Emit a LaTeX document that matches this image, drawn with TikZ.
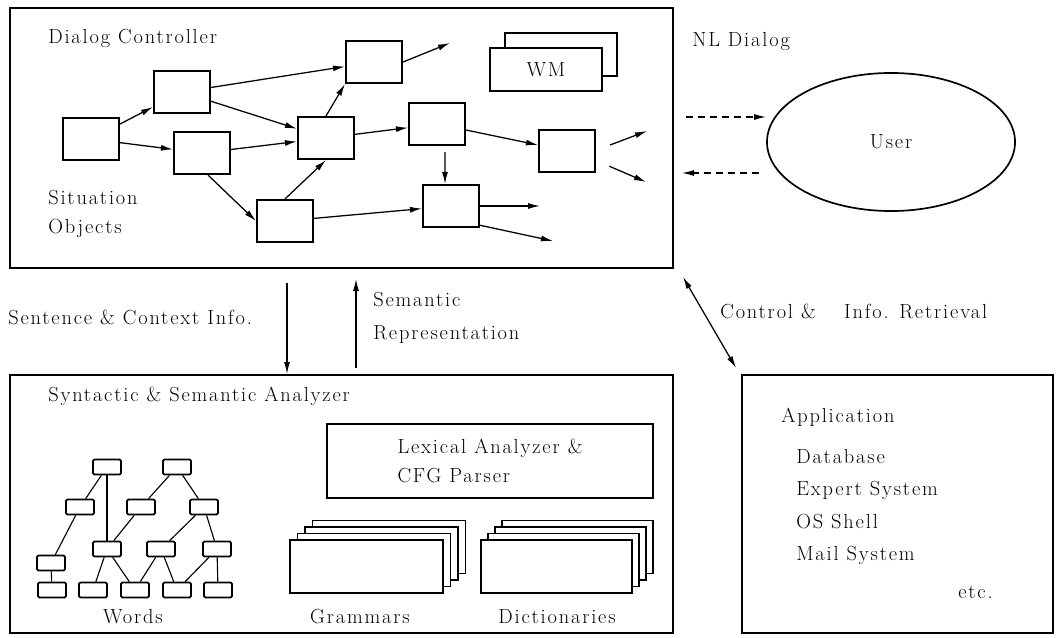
\documentclass[tikz,border=0pt]{standalone}
\usepackage{fontspec}
\setmainfont{Latin Modern Roman}[LetterSpace=9]
\usetikzlibrary{arrows.meta, shapes.geometric, positioning}

\begin{document}
\begin{tikzpicture}[x=0.025cm, y=-0.025cm,
  font=\fontsize{14.5}{20}\selectfont,
  >={Latex[length=3mm,width=1.5mm]},
  frame/.style={draw, line width=1.3pt, inner sep=0pt},
  obj/.style={draw, line width=1.5pt, fill=white, minimum width=1.4cm, minimum height=1.05cm, inner sep=0pt},
  word/.style={draw, line width=1.2pt, rounded corners=1pt, minimum width=0.7cm, minimum height=0.375cm, inner sep=0pt},
  sheet/.style={draw, line width=1.3pt, fill=white, minimum height=1.325cm, inner sep=0pt},
  flow/.style={->, line width=0.9pt},
  link/.style={line width=0.8pt},
  txt/.style={anchor=west, inner sep=0pt, align=left}]
\useasboundingbox (0,0) rectangle (1056,637);

% dialog controller
\node[frame, minimum width=16.575cm, minimum height=6.5cm] (ctl) at (341.5,138) {};
\node[txt] (ctltitle) at (48,38) {Dialog Controller};
\node[txt] (sitobj) at (48,214) {Situation\\ Objects};

\node[obj] (s1) at (91,139) {};
\node[obj] (s2) at (182,92) {};
\node[obj] (s3) at (202,153) {};
\node[obj] (s4) at (326,138) {};
\node[obj] (s5) at (374,62) {};
\node[obj] (s6) at (285,221) {};
\node[obj] (s7) at (437,124) {};
\node[obj] (s8) at (451,206) {};
\node[obj] (s9) at (567,151) {};

\node[obj, minimum width=2.8cm, minimum height=1.075cm] (wmback) at (561,54.5) {};
\node[obj, minimum width=2.8cm, minimum height=1.075cm] (wm) at (546,69.5) {WM};

\coordinate (o5) at (450,43);
\coordinate (o8a) at (540,206);
\coordinate (o8b) at (553,241);
\coordinate (o9a) at (647,131);
\coordinate (o9b) at (646,182);

\draw[flow] (s1) -- (s2);
\draw[flow] (s1) -- (s3);
\draw[flow] (s2) -- (s5);
\draw[flow] (s2) -- (s4);
\draw[flow] (s3) -- (s4);
\draw[flow] ([xshift=0.15cm]s3.south) -- (s6.west);
\draw[flow] (s6.north) -- (s4.south);
\draw[flow] (s4.north) -- (s5.south west);
\draw[flow] (s4) -- (s7);
\draw[flow] (s7) -- (s9);
\draw[flow] ([xshift=0.2cm,yshift=-0.15cm]s7.south) -- ([xshift=-0.15cm]s8.north);
\draw[flow] (s6) -- (s8);
\draw[flow] (s5.east) -- (o5);
\draw[flow] (s8.east) -- (o8a);
\draw[flow] ([yshift=0.07cm]s8.south east) -- (o8b);
\draw[flow] ([shift={(0.35cm,0.15cm)}]s9.east) -- (o9a);
\draw[flow] ([shift={(0.33cm,-0.38cm)}]s9.east) -- (o9b);

% user and the NL dialog
\node[txt] (nltitle) at (692,42) {NL Dialog};
\node[draw, ellipse, line width=1.2pt, minimum width=6.2cm, minimum height=3.45cm] (user) at (891,142) {User};
\coordinate (nl1) at (686,117);
\coordinate (nl2s) at (759,173);
\coordinate (nl2) at (682,173);
\draw[flow, dash pattern=on 5pt off 3.5pt] (nl1) -- (nl1 -| user.west);
\draw[flow, dash pattern=on 5pt off 3.5pt] (nl2s) -- (nl2);

% analyzer
\node[frame, minimum width=16.575cm, minimum height=6.45cm] (syn) at (341.5,504) {};
\node[txt] (syntitle) at (48,396) {Syntactic \& Semantic Analyzer};
\node[frame, line width=1.5pt, minimum width=8.15cm, minimum height=1.85cm, align=left] (lex) at (490,461) {Lexical Analyzer \&\\[1pt] CFG Parser};

\node[sheet, minimum width=3.825cm] (gram3) at (389,547) {};
\node[sheet, minimum width=3.825cm] (gram2) at (381.5,553.5) {};
\node[sheet, minimum width=3.825cm] (gram1) at (374,560) {};
\node[sheet, minimum width=3.825cm] (gram0) at (366.5,566.5) {};
\node (gramlabel) at (360,617) {Grammars};

\node[sheet, minimum width=3.775cm] (dict3) at (577.5,547) {};
\node[sheet, minimum width=3.775cm] (dict2) at (570.5,553.5) {};
\node[sheet, minimum width=3.775cm] (dict1) at (563.5,560) {};
\node[sheet, minimum width=3.775cm] (dict0) at (556.5,566.5) {};
\node (dictlabel) at (557,617) {Dictionaries};

% word tree
\node[word] (w1) at (107,467) {};
\node[word] (w2) at (177,467) {};
\node[word] (w3) at (80,507) {};
\node[word] (w4) at (141,507) {};
\node[word] (w5) at (204,507) {};
\node[word] (w6) at (107,549) {};
\node[word] (w7) at (161,549) {};
\node[word] (w8) at (217,549) {};
\node[word] (w9) at (51,563) {};
\node[word] (w10) at (52,590) {};
\node[word] (w11) at (93,590) {};
\node[word] (w12) at (135,590) {};
\node[word] (w13) at (177,590) {};
\node[word] (w14) at (218,590) {};
\node (wordlabel) at (133,617) {Words};

\draw[link] (w1) -- (w3);
\draw[link] (w1) -- (w6);
\draw[link] (w2) -- (w4);
\draw[link] (w2) -- (w5);
\draw[link] (w3) -- (w9);
\draw[link] (w4) -- (w6);
\draw[link] (w5) -- (w7);
\draw[link] (w5) -- (w8);
\draw[link] (w9) -- (w10);
\draw[link] (w6) -- (w11);
\draw[link] (w6) -- (w12);
\draw[link] (w7) -- (w12);
\draw[link] (w7) -- (w13);
\draw[link] (w8) -- (w13);
\draw[link] (w8) -- (w14);

% between controller and analyzer
\node[txt] (sentinfo) at (8,317) {Sentence \& Context Info.};
\node[txt] (semrep) at (373,318) {Semantic\\[3pt] Representation};
\coordinate (down1) at (287,283);
\coordinate (up1) at (356,368);
\coordinate (up2) at (356,279);
\draw[flow] (down1) -- (down1 |- syn.north);
\draw[flow] (up1) -- (up2);

% application
\node[frame, minimum width=7.775cm, minimum height=6.45cm] (app) at (897.5,504) {};
\node[txt] (apptitle) at (781,417) {Application};
\node[txt] (applist) at (796,507) {Database\\[3pt] Expert System\\[3pt] OS Shell\\[3pt] Mail System};
\node[txt] (etc) at (958,592) {etc.};
\node[txt] (ctrlinfo) at (720,311) {Control \& \quad Info. Retrieval};
\coordinate (ca) at (683,277);
\coordinate (cb) at (736,368);
\draw[flow, <->] (ca) -- (cb);
\end{tikzpicture}
\end{document}
